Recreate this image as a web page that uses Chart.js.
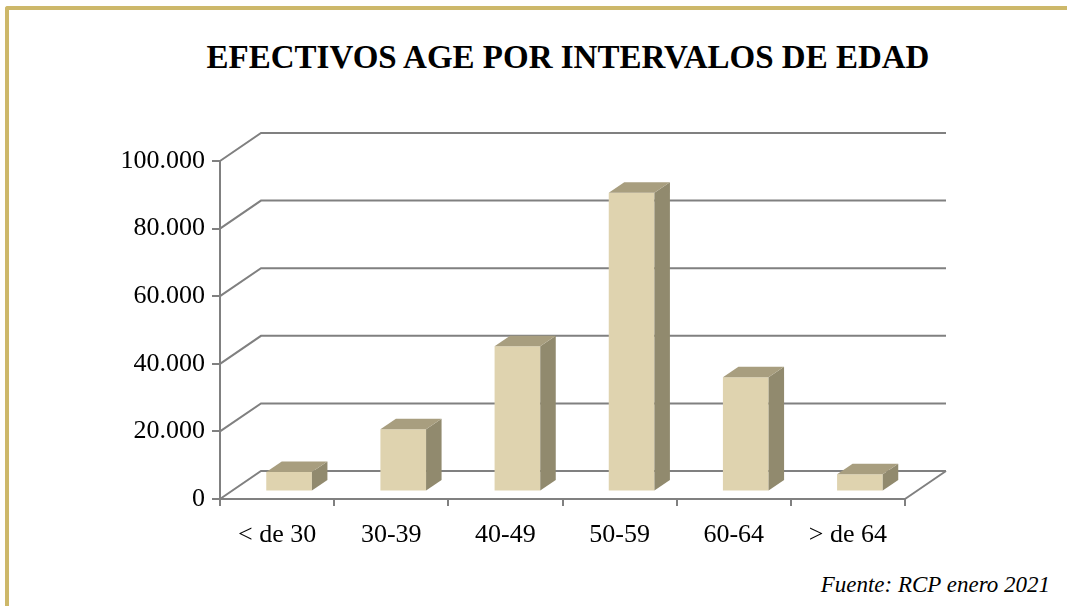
<!DOCTYPE html>
<html lang="es">

<head>
    <meta charset="UTF-8">
    <title>Efectivos AGE por intervalos de edad</title>
    <script src="https://cdn.jsdelivr.net/npm/chart.js"></script>
    <style>
        body {
            margin: 0;
            width: 1067px;
            height: 606px;
            background: #fff;
            position: relative;
            overflow: hidden;
            font-family: "Liberation Serif", "Times New Roman", serif;
        }

        .frame {
            position: absolute;
            left: 5px;
            top: 6px;
            right: -10px;
            bottom: -10px;
            border-top: 4px solid #cdb86a;
            border-left: 4px solid #cdb86a;
            border-top-left-radius: 3px;
        }

        h1 {
            position: absolute;
            left: 0;
            top: 41px;
            width: 1136px;
            margin: 0;
            text-align: center;
            font-size: 33px;
            line-height: 33px;
            font-weight: bold;
            color: #000;
        }

        .source {
            position: absolute;
            left: 0;
            top: 573px;
            width: 1050px;
            margin: 0;
            text-align: right;
            font-size: 23px;
            line-height: 23px;
            font-style: italic;
            color: #000;
        }

        canvas {
            position: absolute;
            left: 0;
            top: 100px;
        }
    </style>
</head>

<body>
    <div class="frame"></div>
    <h1>EFECTIVOS AGE POR INTERVALOS DE EDAD</h1>
    <canvas id="ageChart" width="1067" height="460"></canvas>
    <p class="source">Fuente: RCP enero 2021</p>
    <script>
        const categories = ['< de 30', '30-39', '40-49', '50-59', '60-64', '> de 64'];
        const efectivos = [5800, 18400, 43000, 88400, 33800, 5100];
        const yTicks = [0, 20000, 40000, 60000, 80000, 100000];

        const lineColor = '#808080';
        const frontColor = '#dfd3af';
        const sideColor = '#918a6e';
        const topColor = '#a89e7f';

        // depth of the walls and of the bars (pixels)
        const wallDx = 41, wallDy = -28;
        const barShiftX = 12, barShiftY = -7.5;
        const barDx = 15.5, barDy = -10.5;

        const threeD = {
            id: 'threeD',
            beforeDatasetsDraw(chart) {
                const { ctx, chartArea, scales } = chart;
                const y = scales.y;
                ctx.save();
                ctx.strokeStyle = lineColor;
                ctx.lineWidth = 2;
                yTicks.forEach(v => {
                    const py = y.getPixelForValue(v);
                    ctx.beginPath();
                    ctx.moveTo(chartArea.left, py);
                    ctx.lineTo(chartArea.left + wallDx, py + wallDy);
                    ctx.lineTo(chartArea.right + wallDx, py + wallDy);
                    ctx.stroke();
                });
                ctx.beginPath();
                ctx.moveTo(chartArea.right, chartArea.bottom);
                ctx.lineTo(chartArea.right + wallDx, chartArea.bottom + wallDy);
                ctx.stroke();
                ctx.restore();
            },
            beforeDatasetDraw(chart) {
                chart.ctx.save();
                chart.ctx.translate(barShiftX, barShiftY);
            },
            afterDatasetDraw(chart, args) {
                const ctx = chart.ctx;
                args.meta.data.forEach(bar => {
                    const { x, y, base, width } = bar.getProps(['x', 'y', 'base', 'width'], true);
                    const l = x - width / 2, r = x + width / 2;
                    ctx.fillStyle = sideColor;
                    ctx.beginPath();
                    ctx.moveTo(r, y);
                    ctx.lineTo(r + barDx, y + barDy);
                    ctx.lineTo(r + barDx, base + barDy);
                    ctx.lineTo(r, base);
                    ctx.closePath();
                    ctx.fill();
                    ctx.fillStyle = topColor;
                    ctx.beginPath();
                    ctx.moveTo(l, y);
                    ctx.lineTo(l + barDx, y + barDy);
                    ctx.lineTo(r + barDx, y + barDy);
                    ctx.lineTo(r, y);
                    ctx.closePath();
                    ctx.fill();
                });
                ctx.restore();
            }
        };

        new Chart(document.getElementById('ageChart'), {
            type: 'bar',
            data: {
                labels: categories,
                datasets: [{
                    label: 'Efectivos',
                    data: efectivos,
                    backgroundColor: frontColor,
                    borderWidth: 0,
                    categoryPercentage: 1,
                    barPercentage: 0.4,
                    clip: false
                }]
            },
            options: {
                responsive: false,
                animation: false,
                layout: { padding: { left: 0, right: 162, top: 61, bottom: 0 } },
                plugins: {
                    legend: { display: false },
                    tooltip: { enabled: false }
                },
                scales: {
                    x: {
                        grid: {
                            display: true,
                            drawOnChartArea: false,
                            offset: true,
                            tickLength: 7,
                            color: lineColor,
                            lineWidth: 2
                        },
                        border: { display: true, color: lineColor, width: 2 },
                        ticks: {
                            color: '#000',
                            padding: 14,
                            maxRotation: 0,
                            font: { family: 'Liberation Serif', size: 26 }
                        },
                        afterFit(scale) { scale.height = 61; }
                    },
                    y: {
                        min: 0,
                        max: 100000,
                        grid: {
                            display: true,
                            drawOnChartArea: false,
                            tickLength: 8,
                            color: lineColor,
                            lineWidth: 2
                        },
                        border: { display: true, color: lineColor, width: 2 },
                        ticks: {
                            stepSize: 20000,
                            color: '#000',
                            padding: 7,
                            font: { family: 'Liberation Serif', size: 26 },
                            callback: v => v.toLocaleString('de-DE')
                        },
                        afterFit(scale) { scale.width = 220; }
                    }
                }
            },
            plugins: [threeD]
        });
    </script>
</body>

</html>
